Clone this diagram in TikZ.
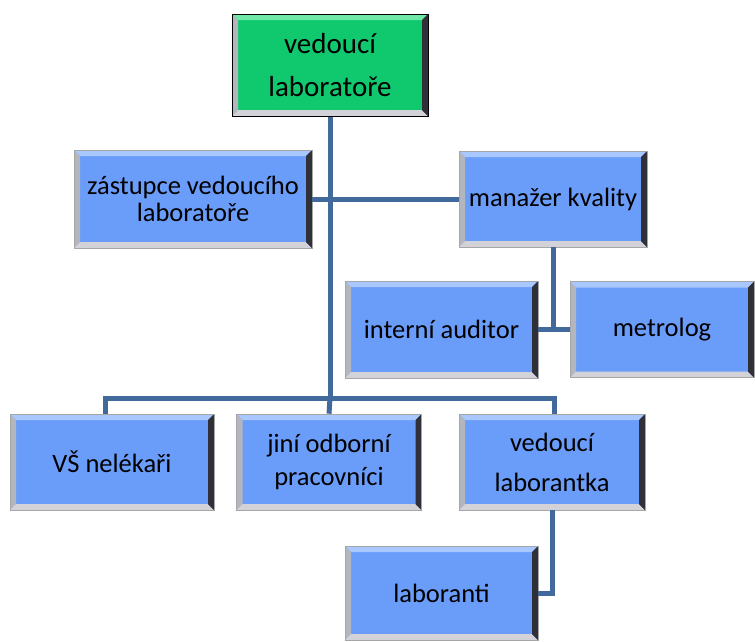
\documentclass[tikz,border=0pt]{standalone}
\usepackage{fontspec}
\setmainfont{Carlito}
\definecolor{face}{HTML}{6A9CFA}
\definecolor{facetop}{HTML}{A8C8FF}
\definecolor{gface}{HTML}{10C96E}
\definecolor{gtop}{HTML}{70E8A8}
\definecolor{conn}{HTML}{41699C}
\definecolor{bevl}{HTML}{B4B6BE}
\definecolor{bevb}{HTML}{D2D2D8}
\definecolor{bevr}{HTML}{303038}
\tikzset{
  bev/.style={
    path picture={
      \def\d{6pt}
      \fill[#1] (path picture bounding box.north west) -- (path picture bounding box.north east)
        -- ([xshift=-\d,yshift=-\d]path picture bounding box.north east)
        -- ([xshift=\d,yshift=-\d]path picture bounding box.north west) -- cycle;
      \fill[bevl] (path picture bounding box.north west) -- ([xshift=\d,yshift=-\d]path picture bounding box.north west)
        -- ([xshift=\d,yshift=\d]path picture bounding box.south west) -- (path picture bounding box.south west) -- cycle;
      \fill[bevb] (path picture bounding box.south west) -- ([xshift=\d,yshift=\d]path picture bounding box.south west)
        -- ([xshift=-\d,yshift=\d]path picture bounding box.south east) -- (path picture bounding box.south east) -- cycle;
      \fill[bevr] (path picture bounding box.north east) -- ([xshift=-\d,yshift=-\d]path picture bounding box.north east)
        -- ([xshift=-\d,yshift=\d]path picture bounding box.south east) -- (path picture bounding box.south east) -- cycle;
    }},
  box/.style={draw=gray!70, line width=0.6pt, fill=face, bev=facetop, align=center,
    inner sep=0pt, font=\fontsize{26.5}{36}\selectfont},
  topbox/.style={draw=black, line width=1pt, fill=gface, bev=gtop, align=center,
    inner sep=0pt, font=\fontsize{29}{43}\selectfont},
  link/.style={draw=conn, line width=5pt}
}
\begin{document}
\begin{tikzpicture}[x=1pt,y=-1pt]
\useasboundingbox (0,0) rectangle (755,641);
\coordinate (bar) at (330,398);
\node[topbox, minimum width=196, minimum height=102] (top) at (330,65) {vedoucí\\laboratoře};
\node[box, minimum width=238, minimum height=98, font=\fontsize{26.5}{27}\selectfont] (zast) at (193,199) {zástupce vedoucího\\laboratoře};
\node[box, minimum width=188, minimum height=96] (man) at (553,199) {manažer kvality};
\node[box, minimum width=193, minimum height=97] (aud) at (441.5,329.5) {interní auditor};
\node[box, minimum width=184, minimum height=96] (met) at (662,329.5) {metrolog};
\node[box, minimum width=204, minimum height=96] (vs) at (112,462) {VŠ nelékaři};
\node[box, minimum width=185, minimum height=96, font=\fontsize{26.5}{33}\selectfont] (jini) at (329,462) {jiní odborní\\pracovníci};
\node[box, minimum width=186, minimum height=96, font=\fontsize{26.5}{40}\selectfont] (lab) at (552,462) {vedoucí\\laborantka};
\node[box, minimum width=193, minimum height=94] (labo) at (441.5,593) {laboranti};
\draw[link] (top.south) -- (bar);
\draw[link] (bar) -- (jini.north);
\draw[link] (zast.east) -- (man.west);
\draw[link] ([xshift=-7]vs.north) |- (bar);
\draw[link] (bar) -| ([xshift=2]lab.north);
\draw[link] (man.south) -- (man.south |- aud.east);
\draw[link] (aud.east) -- (met.west);
\draw[link] (lab.south) |- (labo.east);
\end{tikzpicture}
\end{document}
